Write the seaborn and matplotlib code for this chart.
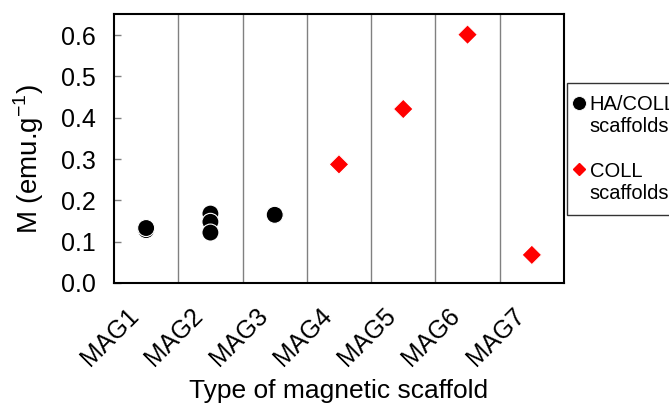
import numpy as np
import pandas as pd
import matplotlib as mpl
import matplotlib.pyplot as plt
import seaborn as sns
from matplotlib.transforms import ScaledTranslation

# values
ha_coll_cat = ["MAG1", "MAG1", "MAG2", "MAG2", "MAG2", "MAG3"]
ha_coll_m = [0.128, 0.133, 0.168, 0.148, 0.122, 0.165]
coll_cat = ["MAG4", "MAG5", "MAG6", "MAG7"]
coll_m = [0.287, 0.421, 0.601, 0.068]
categories = ["MAG1", "MAG2", "MAG3", "MAG4", "MAG5", "MAG6", "MAG7"]
yticks = [0.0, 0.1, 0.2, 0.3, 0.4, 0.5, 0.6]

dat = pd.DataFrame({
    "cat": ha_coll_cat + coll_cat,
    "M": ha_coll_m + coll_m,
    "group": ["HA/COLL"] * len(ha_coll_cat) + ["COLL"] * len(coll_cat),
})
dat["x"] = dat["cat"].map({c: i for i, c in enumerate(categories)})

sns.set_style("white")
plt.rcParams["font.family"] = ["Liberation Sans", "DejaVu Sans"]
plt.rcParams["mathtext.fontset"] = "custom"
plt.rcParams["mathtext.rm"] = "Liberation Sans"
plt.rcParams["text.color"] = "black"
plt.rcParams["axes.labelcolor"] = "black"

fig = plt.figure(figsize=(6.69, 4.03), dpi=100)
ax = fig.add_axes([0.1704, 0.2978, 0.6726, 0.6675])

ax = sns.scatterplot(data=dat, x="x", y="M", hue="group", style="group",
                     palette={"HA/COLL": "black", "COLL": "#ff0000"},
                     markers={"HA/COLL": "o", "COLL": "D"},
                     size="group", sizes={"HA/COLL": 150, "COLL": 100},
                     edgecolor="white", linewidth=0.8, ax=ax, zorder=3, legend=False)

ax.set_xlim(-0.5, len(categories) - 0.5)
ax.set_ylim(0, 0.651)
ax.set_xticks(range(len(categories)))
ax.set_xticks(np.arange(0.5, len(categories) - 0.5, 1), minor=True)
ax.tick_params(axis="x", which="major", length=0, pad=21)
ax.tick_params(axis="x", which="minor", length=5, direction="in", color="black", width=1)
ax.set_xticklabels(categories, rotation=45, ha="right", va="center",
                   rotation_mode="anchor", fontsize=18, color="black")
for lab in ax.get_xticklabels():
    lab.set_transform(lab.get_transform() + ScaledTranslation(-8 / 72, 0, fig.dpi_scale_trans))
ax.grid(axis="x", which="minor", color="#808080", linewidth=1)
ax.set_yticks(yticks)
ax.tick_params(axis="y", length=5, direction="in", color="#808080", width=1, pad=13, left=True)
ax.set_yticklabels(["%.1f" % v for v in yticks], fontsize=18, color="black")
for s in ax.spines.values():
    s.set_color("black")
    s.set_linewidth(1.5)
    s.set_visible(True)

ax.set_xlabel("Type of magnetic scaffold", fontsize=19)
ax.xaxis.set_label_coords(0.5, -0.356)
ax.set_ylabel("M (emu.g$^{-1}$)", fontsize=20)
ax.yaxis.set_label_coords(-0.151, 0.46)

handles = [
    mpl.lines.Line2D([], [], marker="o", color="black", linestyle="", markersize=10,
                     markeredgecolor="white", markeredgewidth=0.6),
    mpl.lines.Line2D([], [], linestyle="", marker=""),
    mpl.lines.Line2D([], [], linestyle="", marker=""),
    mpl.lines.Line2D([], [], marker="D", color="#ff0000", linestyle="", markersize=6,
                     markeredgecolor="#ff0000"),
    mpl.lines.Line2D([], [], linestyle="", marker=""),
]
labels = ["HA/COLL", "scaffolds", " ", "COLL", "scaffolds"]
leg = ax.legend(handles, labels, loc="upper left",
                bbox_to_anchor=(1.006, 0.742), frameon=True, fancybox=False, fontsize=14.5,
                handlelength=0.0, handletextpad=0.55, labelspacing=0.15, borderpad=0.6,
                borderaxespad=0)
leg.get_frame().set_edgecolor("black")
leg.get_frame().set_linewidth(1)

fig.savefig("out.png", dpi=100)
